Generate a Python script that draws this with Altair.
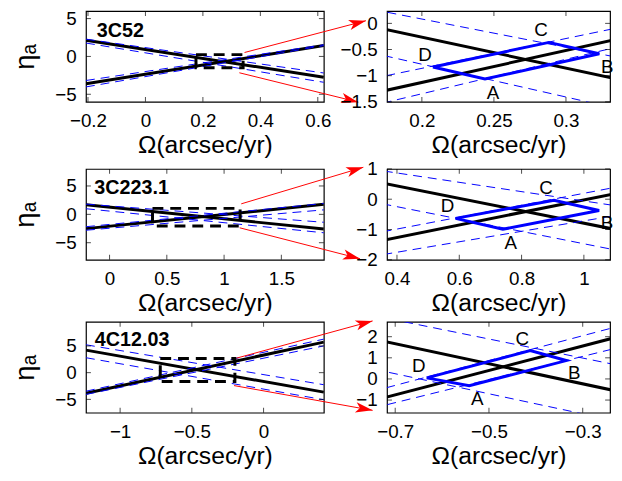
import math
import altair as alt
import pandas as pd

FONT = "Liberation Sans"
BLUE = "#0000FF"
RED = "#FF0000"

# ---------------- data ----------------
names = ["3C52", "3C223.1", "4C12.03"]

left_x_domain = [[-0.207, 0.621], [-0.206, 1.871], [-1.238, 0.42]]
left_y_domain = [[-6, 6], [-8, 8], [-7.5, 9.5]]
left_x_ticks = [[-0.2, 0, 0.2, 0.4, 0.6], [0, 0.5, 1, 1.5], [-1, -0.5, 0]]
left_y_ticks = [[-5, 0, 5], [-5, 0, 5], [-5, 0, 5]]

right_x_domain = [[0.1758, 0.3306], [0.368, 1.084], [-0.7175, -0.2417]]
right_y_domain = [[-1.5, 0.236], [-2, 1], [-1.6, 2.7]]
right_x_ticks = [[0.2, 0.25, 0.3], [0.4, 0.6, 0.8, 1.0], [-0.7, -0.5, -0.3]]
right_y_ticks = [[-1.5, -1, -0.5, 0], [-2, -1, 0, 1], [-1, 0, 1, 2]]

# eta of each line at the left / right end of the left panel's Omega range
solid_eta = [
    {"L1": [2.137, -2.749], "L2": [-3.612, 1.439]},
    {"L1": [1.679, -2.579], "L2": [-2.518, 1.781]},
    {"L1": [4.22, -3.65], "L2": [-3.86, 5.72]},
]
dashed_eta = [
    {"L1u": [2.28, -2.19], "L1l": [1.77, -3.42], "L2u": [-3.18, 1.54], "L2l": [-4.03, 1.43]},
    {"L1u": [1.80, -1.40], "L1l": [0.99, -3.25], "L2u": [-2.18, 1.91], "L2l": [-2.80, 0.79]},
    {"L1u": [5.22, -2.26], "L1l": [2.80, -5.07], "L2u": [-3.47, 6.28], "L2l": [-4.07, 5.01]},
]

# zoom box drawn in the left panel: [omega_lo, omega_hi], [eta_lo, eta_hi]
box_omega = [[0.176, 0.34], [0.375, 1.14], [-0.72, -0.2]]
box_eta = [[-1.5, 0.24], [-2.05, 1.05], [-1.65, 2.65]]

# parallelogram vertices, order D, A, B, C
quad_letters = ["D", "A", "B", "C"]
quad_omega = [
    [0.2077, 0.2438, 0.3231, 0.2882],
    [0.588, 0.740, 1.049, 0.904],
    [-0.633, -0.542, -0.335, -0.412],
]
quad_eta = [
    [-0.833, -1.064, -0.582, -0.364],
    [-0.634, -0.993, -0.373, -0.033],
    [0.05, -0.32, 0.87, 1.34],
]

# red arrows, in the left panel's units: start (omega, eta) -> tip (omega, eta)
arrow_start_omega = [[0.345, 0.327], [1.150, 1.136], [-0.188, -0.206]]
arrow_start_eta = [[0.52, -2.16], [1.85, -2.37], [2.72, -2.42]]
arrow_tip_omega = [[0.7675, 0.741], [2.216, 2.187], [0.76, 0.76]]
arrow_tip_eta = [[4.72, -6.04], [8.29, -7.82], [9.69, -7.06]]

# ---------------- layout / style ----------------
LW, RW, H = 241, 226, 92
label_pos = [(11, 26), (8.5, 25), (9, 24.5)]
letter_off = {"D": (-8, -12), "A": (8, 14), "B": (8, 13), "C": (-8, -12)}
XTITLE = "Ω(arcsec/yr)"
YTITLE = "ηₐ"
TICK_LEN = 5


def lines_df(r, table):
    rows = []
    for name, ends in table[r].items():
        for om, et in zip(left_x_domain[r], ends):
            rows.append({"omega": om, "eta": et, "line": name})
    return pd.DataFrame(rows)


def inner_ticks(xs, ys, xax, yax, xt, yt, width):
    """MATLAB-style inward tick marks on all four sides of the box."""
    out = []
    xdf = pd.DataFrame({"omega": xt})
    ydf = pd.DataFrame({"eta": yt})
    for yv in (H - TICK_LEN / 2, TICK_LEN / 2):
        out.append(alt.Chart(xdf).mark_tick(
            orient="vertical", color="black", thickness=1, size=TICK_LEN, clip=False
        ).encode(x=alt.X("omega:Q", scale=xs, axis=xax), y=alt.value(yv)))
    for xv in (TICK_LEN / 2, width - TICK_LEN / 2):
        out.append(alt.Chart(ydf).mark_tick(
            orient="horizontal", color="black", thickness=1, size=TICK_LEN, clip=False
        ).encode(y=alt.Y("eta:Q", scale=ys, axis=yax), x=alt.value(xv)))
    return out


def panel_layers(r, xs, ys, xax, yax):
    enc = lambda: dict(
        x=alt.X("omega:Q", scale=xs, axis=xax),
        y=alt.Y("eta:Q", scale=ys, axis=yax),
    )
    solid = alt.Chart(lines_df(r, solid_eta)).mark_line(
        color="black", strokeWidth=3, clip=True
    ).encode(detail="line:N", **enc())
    dashed = alt.Chart(lines_df(r, dashed_eta)).mark_line(
        color=BLUE, strokeWidth=1, strokeDash=[9, 6], clip=True
    ).encode(detail="line:N", **enc())
    return solid, dashed, enc


def left_panel(r):
    xs = alt.Scale(domain=left_x_domain[r], nice=False, zero=False)
    ys = alt.Scale(domain=left_y_domain[r], nice=False, zero=False)
    xax = alt.Axis(values=left_x_ticks[r], format="~g", title=XTITLE)
    yax = alt.Axis(values=left_y_ticks[r], format="~g", title=YTITLE)
    solid, dashed, enc = panel_layers(r, xs, ys, xax, yax)

    box = alt.Chart(pd.DataFrame({
        "o1": [box_omega[r][0]], "o2": [box_omega[r][1]],
        "e1": [box_eta[r][0]], "e2": [box_eta[r][1]],
    })).mark_rect(fill=None, stroke="black", strokeWidth=3, strokeDash=[11, 7]).encode(
        x=alt.X("o1:Q", scale=xs, axis=xax), x2="o2:Q",
        y=alt.Y("e1:Q", scale=ys, axis=yax), y2="e2:Q",
    )

    pxx = LW / (left_x_domain[r][1] - left_x_domain[r][0])
    pxy = H / (left_y_domain[r][1] - left_y_domain[r][0])
    arr = []
    for k in range(2):
        o1, e1 = arrow_start_omega[r][k], arrow_start_eta[r][k]
        o2, e2 = arrow_tip_omega[r][k], arrow_tip_eta[r][k]
        ang = math.degrees(math.atan2(-(e2 - e1) * pxy, (o2 - o1) * pxx)) % 360
        arr.append({"omega": o1, "eta": e1, "omega2": o2, "eta2": e2, "ang": ang})
    adf = pd.DataFrame(arr)
    rules = alt.Chart(adf).mark_rule(color=RED, strokeWidth=1, clip=False).encode(
        x=alt.X("omega:Q", scale=xs, axis=xax), x2="omega2:Q",
        y=alt.Y("eta:Q", scale=ys, axis=yax), y2="eta2:Q",
    )
    heads = alt.Chart(adf).mark_point(
        shape="M0,0L-2,-0.6L-1.5,0L-2,0.6Z", filled=True, fill=RED, stroke=None,
        opacity=1, size=300, clip=False,
    ).encode(
        x=alt.X("omega2:Q", scale=xs, axis=xax),
        y=alt.Y("eta2:Q", scale=ys, axis=yax),
        angle=alt.Angle("ang:Q", scale=None),
    )
    lx, ly = label_pos[r]
    label = alt.Chart(pd.DataFrame({"name": [names[r]]})).mark_text(
        font=FONT, fontSize=20, fontWeight="bold", align="left", baseline="alphabetic",
        color="black",
    ).encode(text="name:N", x=alt.value(lx), y=alt.value(ly))
    ticks = inner_ticks(xs, ys, xax, yax, left_x_ticks[r], left_y_ticks[r], LW)
    return alt.layer(solid, dashed, box, *ticks, rules, heads, label).properties(
        width=LW, height=H
    )


def right_panel(r):
    xs = alt.Scale(domain=right_x_domain[r], nice=False, zero=False)
    ys = alt.Scale(domain=right_y_domain[r], nice=False, zero=False)
    xax = alt.Axis(values=right_x_ticks[r], format="~g", title=XTITLE)
    yax = alt.Axis(values=right_y_ticks[r], format="~g", title=None)
    solid, dashed, enc = panel_layers(r, xs, ys, xax, yax)

    qo = quad_omega[r] + [quad_omega[r][0]]
    qe = quad_eta[r] + [quad_eta[r][0]]
    qdf = pd.DataFrame({"omega": qo, "eta": qe, "k": list(range(len(qo)))})
    quad = alt.Chart(qdf).mark_line(color=BLUE, strokeWidth=3, clip=False).encode(
        order="k:Q", **enc()
    )
    layers = [solid, dashed, quad]
    layers += inner_ticks(xs, ys, xax, yax, right_x_ticks[r], right_y_ticks[r], RW)
    for i, L in enumerate(quad_letters):
        dx, dy = letter_off[L]
        ldf = pd.DataFrame({"omega": [quad_omega[r][i]], "eta": [quad_eta[r][i]], "t": [L]})
        layers.append(
            alt.Chart(ldf).mark_text(
                font=FONT, fontSize=19, color="black", dx=dx, dy=dy,
                align="center", baseline="middle", clip=False,
            ).encode(text="t:N", **enc())
        )
    return alt.layer(*layers).properties(width=RW, height=H)


rows = [
    alt.hconcat(left_panel(r), right_panel(r), spacing=64).properties(bounds="flush")
    for r in range(3)
]

top_two = alt.vconcat(rows[0], rows[1], spacing=1)
chart = (
    alt.vconcat(top_two, rows[2], spacing=3)
    .properties(padding={"left": 3, "top": -2, "right": 0, "bottom": 0})
    .configure_view(stroke="black", strokeWidth=1.2)
    .configure_axis(
        grid=False, domain=False, ticks=False,
        labelFont=FONT, labelFontSize=19, labelColor="black",
        titleFont=FONT, titleFontSize=25, titleColor="black", titleFontWeight="normal",
        labelFlush=False, labelOverlap=False, labelPadding=10,
    )
    .configure_axisX(titlePadding=2)
    .configure_axisY(titlePadding=15, titleFontSize=28)
)

chart.save("out.html", embed_options={"renderer": "svg", "actions": False})
